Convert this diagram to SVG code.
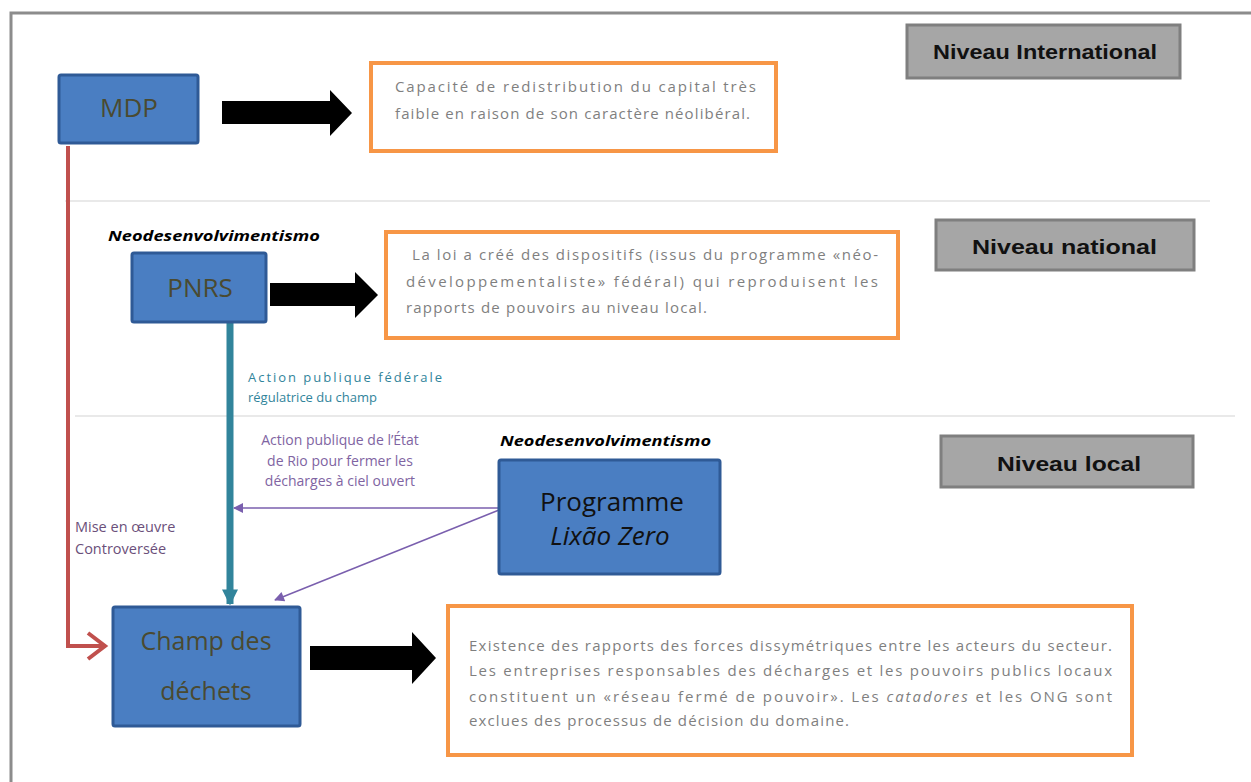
<svg xmlns="http://www.w3.org/2000/svg" width="1251" height="782" viewBox="0 0 1251 782">
<defs>
<style>
.node{fill:#4a7ec2;stroke:#2f5a96;stroke-width:3}
.nt{font-family:"Open Sans","Liberation Sans",sans-serif;fill:#4a4a30;text-anchor:middle}
.lvl{fill:#a6a6a6;stroke:#7f7f7f;stroke-width:3}
.lt{font-family:"Liberation Sans",Arial,sans-serif;font-weight:bold;font-size:20px;fill:#111}
.ob{fill:#fff;stroke:#f79646;stroke-width:4}
.ot{font-family:"Open Sans","Liberation Sans",sans-serif;font-size:15px;fill:#7f7f7f}
.neo{font-family:"Open Sans","Liberation Sans",sans-serif;font-weight:bold;font-style:italic;font-size:14px;fill:#000}
.lbl{font-family:"Open Sans","Liberation Sans",sans-serif;font-size:13px}
.sep{stroke:#e2e2e2;stroke-width:1.5}
</style>
<marker id="tealHead" viewBox="0 0 10 10" refX="9" refY="5" markerWidth="18" markerHeight="16" orient="auto" markerUnits="userSpaceOnUse">
<path d="M0,0 L10,5 L0,10 Z" fill="#31849b"/>
</marker>
<marker id="purpHead" viewBox="0 0 10 10" refX="9" refY="5" markerWidth="12" markerHeight="10" orient="auto" markerUnits="userSpaceOnUse">
<path d="M0,0 L10,5 L0,10 Z" fill="#7a5fae"/>
</marker>
</defs>
<rect x="0" y="0" width="1251" height="782" fill="#fff"/>
<rect x="11" y="13" width="1260" height="790" fill="none" stroke="#8c8c8c" stroke-width="3"/>
<line class="sep" x1="65" y1="201" x2="1210" y2="201"/>
<line class="sep" x1="75" y1="416" x2="1235" y2="416"/>

<g id="connectors">
<path d="M68,146 L68,646 L102,646" fill="none" stroke="#c0504d" stroke-width="4"/>
<path d="M88,633 L105,646 L88,659" fill="none" stroke="#c0504d" stroke-width="4"/>
<line x1="230" y1="323" x2="230" y2="604" stroke="#31849b" stroke-width="7" marker-end="url(#tealHead)"/>
<line x1="499" y1="508" x2="234" y2="508" stroke="#7a5fae" stroke-width="1.5" marker-end="url(#purpHead)"/>
<line x1="499" y1="510" x2="275" y2="600" stroke="#7a5fae" stroke-width="1.5" marker-end="url(#purpHead)"/>
<path d="M222,101 L330,101 L330,90 L352,113 L330,136 L330,124 L222,124 Z" fill="#000"/>
<path d="M270,283 L355,283 L355,272 L378,295 L355,318 L355,306 L270,306 Z" fill="#000"/>
<path d="M310,646 L412,646 L412,632 L436,658 L412,684 L412,670 L310,670 Z" fill="#000"/>
</g>

<g id="lvl-int"><rect class="lvl" x="907" y="25" width="273" height="53"/><text class="lt" x="933" y="59" textLength="224" lengthAdjust="spacingAndGlyphs">Niveau International</text></g>
<g id="lvl-nat"><rect class="lvl" x="936" y="220" width="258" height="50"/><text class="lt" x="972" y="254" textLength="185" lengthAdjust="spacingAndGlyphs">Niveau national</text></g>
<g id="lvl-loc"><rect class="lvl" x="941" y="436" width="252" height="51"/><text class="lt" x="997" y="471" textLength="144" lengthAdjust="spacingAndGlyphs">Niveau local</text></g>

<g id="mdp"><rect class="node" x="59" y="75" width="139" height="68" rx="2"/><text class="nt" x="129" y="117" font-size="26">MDP</text></g>
<g id="pnrs"><rect class="node" x="132" y="253" width="134" height="69" rx="2"/><text class="nt" x="200" y="297" font-size="26">PNRS</text></g>
<g id="lixao"><rect class="node" x="499" y="460" width="221" height="114" rx="2"/>
<text class="nt" x="612" y="511" font-size="26" style="fill:#111">Programme</text>
<text class="nt" x="610" y="545" font-size="26" font-style="italic" style="fill:#111">Lixão Zero</text></g>
<g id="champ"><rect class="node" x="113" y="607" width="187" height="119" rx="2"/>
<text class="nt" x="206" y="650" font-size="25">Champ des</text>
<text class="nt" x="206" y="700" font-size="25">déchets</text></g>

<g id="box1"><rect class="ob" x="371" y="63" width="405" height="88"/>
<text class="ot" x="395" y="92" textLength="361" lengthAdjust="spacing">Capacité de redistribution du capital très</text>
<text class="ot" x="395" y="119" textLength="355" lengthAdjust="spacing">faible en raison de son caractère néolibéral.</text></g>

<g id="box2"><rect class="ob" x="386" y="232" width="512" height="106"/>
<text class="ot" x="412" y="260" textLength="466" lengthAdjust="spacing">La loi a créé des dispositifs (issus du programme «néo-</text>
<text class="ot" x="406" y="287" textLength="472" lengthAdjust="spacing">développementaliste» fédéral) qui reproduisent les</text>
<text class="ot" x="406" y="313" textLength="301" lengthAdjust="spacing">rapports de pouvoirs au niveau local.</text></g>

<g id="box3"><rect class="ob" x="448" y="606" width="684" height="149"/>
<text class="ot" x="469" y="651" textLength="643" lengthAdjust="spacing">Existence des rapports des forces dissymétriques entre les acteurs du secteur.</text>
<text class="ot" x="469" y="676" textLength="643" lengthAdjust="spacing">Les entreprises responsables des décharges et les pouvoirs publics locaux</text>
<text class="ot" x="469" y="702" textLength="643" lengthAdjust="spacing">constituent un «réseau fermé de pouvoir». Les <tspan font-style="italic">catadores</tspan> et les ONG sont</text>
<text class="ot" x="469" y="726" textLength="380" lengthAdjust="spacing">exclues des processus de décision du domaine.</text></g>

<g id="labels">
<text class="neo" x="108" y="241" textLength="212" lengthAdjust="spacingAndGlyphs">Neodesenvolvimentismo</text>
<text class="neo" x="500" y="446" textLength="211" lengthAdjust="spacingAndGlyphs">Neodesenvolvimentismo</text>
<text class="lbl" x="248" y="382" fill="#31849b" textLength="194" lengthAdjust="spacing">Action publique fédérale</text>
<text class="lbl" x="248" y="402" fill="#31849b">régulatrice du champ</text>
<g fill="#8064a2" text-anchor="middle" class="lbl" font-size="14">
<text x="340" y="445" style="font-size:14px">Action publique de l’État</text>
<text x="340" y="466" style="font-size:14px">de Rio pour fermer les</text>
<text x="340" y="486" style="font-size:14px">décharges à ciel ouvert</text>
</g>
<text class="lbl" x="75" y="532" fill="#6b4f7a" style="font-size:14.5px">Mise en œuvre</text>
<text class="lbl" x="75" y="554" fill="#6b4f7a" style="font-size:14.5px">Controversée</text>
</g>
</svg>
